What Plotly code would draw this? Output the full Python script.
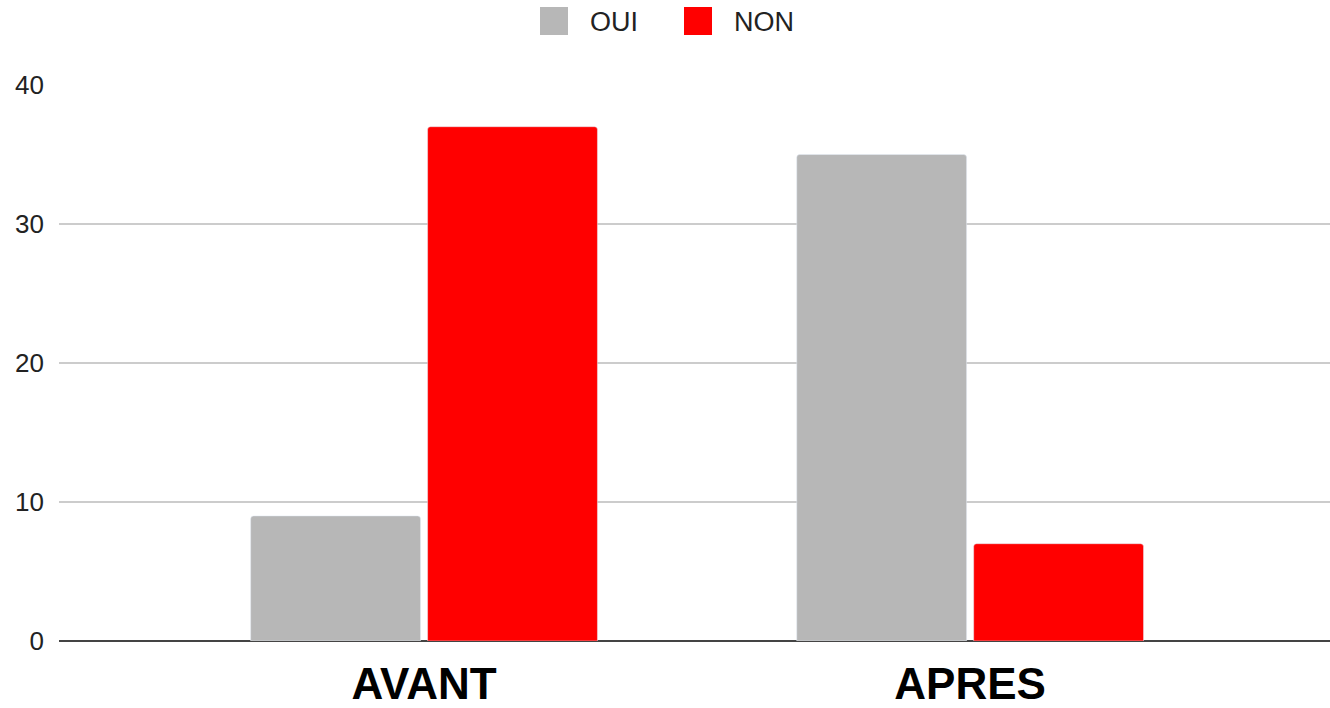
import plotly.graph_objects as go

categories = ["AVANT", "APRES"]
oui_values = [9, 35]
non_values = [37, 7]
y_ticks = [0, 10, 20, 30, 40]
series_names = ["OUI", "NON"]
series_colors = ["#b7b7b7", "#ff0000"]

fig = go.Figure()
fig.add_trace(go.Bar(name=series_names[0], x=categories, y=oui_values,
                     marker=dict(color=series_colors[0]), showlegend=False))
fig.add_trace(go.Bar(name=series_names[1], x=categories, y=non_values,
                     marker=dict(color=series_colors[1]), showlegend=False))

W, H = 1330, 708
L, R, T, B = 59, 0, 85, 67
pw = W - L - R
ph = H - T - B

def px(x):
    return (x - L) / pw

def py(y):
    return (H - B - y) / ph

# custom legend (large squares + labels)
legend_items = [(540, 588), (684, 732)]
shapes = []
annotations = []
for (sx, tx), name, col in zip(legend_items, series_names, series_colors):
    shapes.append(dict(type="rect", xref="paper", yref="paper",
                       x0=px(sx), x1=px(sx + 28), y0=py(35), y1=py(7),
                       fillcolor=col, line=dict(width=0), layer="above"))
    annotations.append(dict(text=name, xref="paper", yref="paper", x=px(tx), y=py(22),
                            xanchor="left", yanchor="middle", showarrow=False,
                            font=dict(size=27, color="#222222", family="Liberation Sans, Arial")))

fig.update_layout(
    width=W, height=H,
    margin=dict(l=L, r=R, t=T, b=B, autoexpand=False),
    paper_bgcolor="white", plot_bgcolor="white",
    barmode="group", bargap=0.352, bargroupgap=0.04,
    barcornerradius=3,
    font=dict(family="Liberation Sans, Arial", color="#222222"),
    showlegend=False,
    shapes=shapes,
    annotations=annotations,
    xaxis=dict(range=[-0.6685, 1.659], showgrid=False, showline=False, ticks="", automargin=False,
               tickfont=dict(size=44, color="#000000", family="Liberation Sans, Arial", weight="bold"),
               ticklabelstandoff=13),
    yaxis=dict(range=[0, 40], tickvals=y_ticks, showgrid=True, gridcolor="#cccccc", gridwidth=1.5,
               zeroline=True, zerolinecolor="#444444", zerolinewidth=2, showline=False, automargin=False,
               ticks="", tickfont=dict(size=26, color="#222222"), ticklabelstandoff=14),
)

fig.write_html("out.html", config={"displayModeBar": False},
               post_script="document.body.style.margin='0';document.body.style.overflow='hidden';")
